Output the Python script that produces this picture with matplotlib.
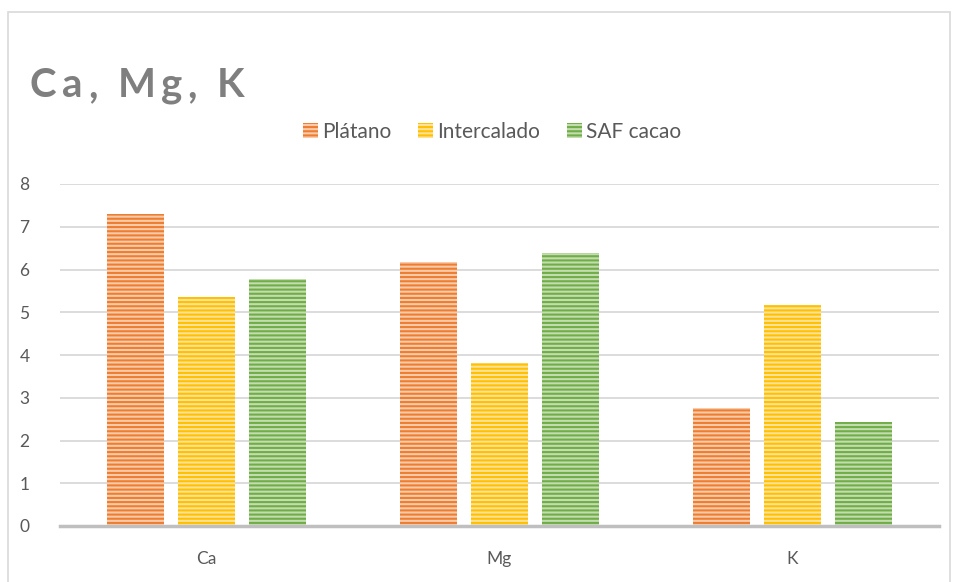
import numpy as np
import matplotlib
matplotlib.use("Agg")
import matplotlib.pyplot as plt
from matplotlib.patches import Rectangle, Patch

plt.rcParams['font.family'] = ['Lato', 'DejaVu Sans']
plt.rcParams['hatch.linewidth'] = 1.5

# Data
elements = ['Ca', 'Mg', 'K']
platano = [7.30, 6.18, 2.76]
intercalado = [5.36, 3.81, 5.17]
saf_cacao = [5.78, 6.39, 2.43]

series = [
    ('Plátano', platano, '#F9CBAA', '#ED7D31'),
    ('Intercalado', intercalado, '#FFE29A', '#FFC000'),
    ('SAF cacao', saf_cacao, '#C3DDB0', '#70AD47'),
]

text_gray = '#595959'
grid_gray = '#D9D9D9'

fig = plt.figure(figsize=(9.54, 5.82), dpi=100)
W, H = 954, 582

# outer chart frame (runs off the bottom edge)
fig.patches.append(Rectangle((8 / W, -10 / H), 942 / W, 580 / H, transform=fig.transFigure,
                             fill=False, edgecolor=grid_gray, linewidth=1.2))

ax = fig.add_axes([60 / W, (H - 526) / H, 879 / W, 342 / H])

x = np.arange(len(elements))
width = 0.195
offsets = [-0.242, 0.0, 0.242]
for (name, vals, light, dark), off in zip(series, offsets):
    ax.bar(x + off, vals, width, color=light, edgecolor=dark, linewidth=0,
           hatch='----', label=name, zorder=3)

ax.set_xlim(-0.5, 2.5)
ax.set_ylim(0, 8)
ax.set_yticks(range(0, 9))
ax.set_xticks(x)
ax.set_xticklabels(elements)
ax.yaxis.grid(True, color=grid_gray, linewidth=1.3, zorder=0)
ax.tick_params(axis='both', length=0, labelsize=12.5, colors=text_gray)
ax.tick_params(axis='y', pad=22)
ax.tick_params(axis='x', pad=18)
for side in ['top', 'right', 'left']:
    ax.spines[side].set_visible(False)
ax.spines['bottom'].set_color('#BFBFBF')
ax.spines['bottom'].set_linewidth(2.5)
ax.spines['bottom'].set_zorder(4)

# title with loose letter spacing, one glyph at a time
title = 'Ca, Mg, K'
tracking = 5.5  # px between glyphs
renderer = fig.canvas.get_renderer()
xpos = 30
for ch in title:
    t = fig.text(xpos / W, 1 - 97 / H, ch, fontsize=29, fontweight='bold',
                 color='#7F7F7F', ha='left', va='baseline')
    if ch == ' ':
        adv = 9
    else:
        adv = t.get_window_extent(renderer).width
    xpos += adv + tracking

handles = [Patch(facecolor=light, edgecolor=dark, linewidth=0, hatch='----', label=name)
           for name, vals, light, dark in series]
leg = fig.legend(handles=handles, loc='center', bbox_to_anchor=(492 / W, 1 - 132 / H),
                 ncol=3, frameon=False, fontsize=15, handlelength=0.7, handleheight=0.7,
                 handletextpad=0.2, columnspacing=1.3)
for t in leg.get_texts():
    t.set_color(text_gray)

fig.savefig('out.png', dpi=100)
